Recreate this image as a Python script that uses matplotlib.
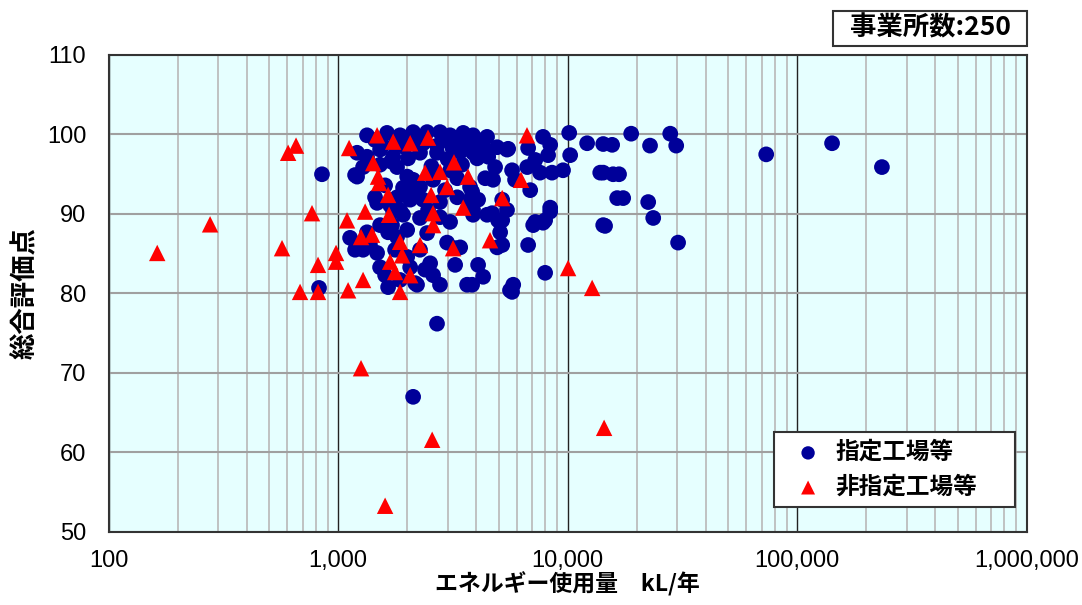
import matplotlib
matplotlib.use("Agg")
import matplotlib.pyplot as plt
from matplotlib.patches import Rectangle
from matplotlib.ticker import FixedLocator, LogLocator, NullFormatter

plt.rcParams["font.family"] = ["Noto Sans CJK JP", "DejaVu Sans"]

# 指定工場等 (energy use kL/yr, score)
designated_x = [
    851, 826, 2698, 2123, 73300, 141900, 234000, 18920, 22860, 27990, 29720, 14290,
    15630, 14290, 15780, 16750, 17460, 22440, 23600, 14560, 30290,
    5508, 6730, 7816, 8395, 8222, 10160, 10260, 12160, 13870, 4375, 4831, 5728,
    6668, 7586, 8551, 9550, 3837, 5188, 8395, 16440, 4457, 4932, 4036, 4508,
    3873, 4457, 5188, 5082, 5188, 4932, 6730, 7228, 7980, 8395, 14290, 4285,
    7980, 5794, 5610, 3837,
    1479, 1738, 1919, 2275, 2780, 3076, 3873, 1128, 1337, 1285, 1479, 1524,
    1652, 1807, 2000, 2061, 2208, 2518, 2594, 2780, 2275, 2985, 3404, 3648,
    2000, 2443, 1718, 1652,
    1337, 1634, 1862, 2123, 2443, 2780, 3076, 3508, 3873, 1210, 1186, 1337,
    1738, 2018, 2275, 2698, 3404, 3873, 1807, 2000, 2123, 2594, 3304, 3758,
    1449, 1807, 2123, 2780, 3304, 3758, 1285, 1919, 2275, 2344,
    1210, 1186, 2167, 5728, 7816, 7079, 4732, 4375, 5445, 5445, 4688, 3236, 4977,
    1449, 1524, 1772, 1959, 2234, 2924, 3236, 3648, 4074, 1524, 1603, 1686,
    1862, 2061, 2466, 2924, 3076, 3467, 1524, 1772, 1377, 1603, 1862, 2393,
    3236, 4074, 5902, 7228, 6871, 4074,
    1560, 1950, 2350, 2700, 3150, 3600, 4200, 1700, 2550, 3000,
]
designated_y = [
    95.0, 80.7, 76.2, 67.0, 97.5, 98.9, 95.9, 100.1, 98.6, 100.1, 98.6, 98.8,
    98.7, 95.2, 95.0, 95.0, 92.0, 91.5, 89.5, 88.5, 86.4,
    98.2, 98.3, 99.7, 98.7, 97.4, 100.2, 97.4, 98.9, 95.2, 94.5, 95.9, 95.5,
    95.9, 95.2, 95.2, 95.5, 92.8, 91.8, 90.8, 92.0, 99.7, 98.4, 97.0, 97.2,
    89.9, 89.9, 89.2, 87.7, 86.1, 85.8, 86.1, 89.0, 89.2, 90.3, 88.6, 82.1,
    82.6, 81.1, 80.4, 81.1,
    91.4, 90.3, 89.9, 89.5, 89.6, 89.0, 90.5, 87.0, 87.7, 85.5, 85.1, 83.3,
    80.8, 87.1, 84.6, 83.3, 81.1, 83.8, 82.3, 81.1, 85.5, 86.4, 85.8, 81.1,
    88.0, 87.6, 88.6, 87.7,
    99.9, 100.2, 99.9, 100.3, 100.3, 100.3, 99.9, 100.2, 99.9, 97.7, 94.9, 97.2,
    97.2, 97.0, 97.7, 97.7, 97.8, 97.7, 95.9, 94.7, 94.3, 94.3, 94.5, 93.4,
    92.1, 92.1, 92.8, 91.5, 92.1, 91.8, 95.9, 93.3, 93.4, 91.8,
    94.7, 85.5, 81.3, 80.2, 88.9, 88.6, 94.3, 98.1, 98.1, 90.5, 90.1, 85.7, 89.2,
    99.3, 98.1, 98.7, 99.1, 99.3, 99.3, 99.1, 99.1, 99.3, 96.2, 93.6, 91.1,
    90.5, 91.8, 90.5, 93.0, 95.5, 96.2, 88.6, 85.5, 86.1, 82.3, 81.7, 83.0,
    83.6, 83.6, 94.3, 96.8, 93.0, 91.8,
    98.6, 98.4, 98.9, 98.6, 98.3, 98.5, 98.8, 96.6, 96.0, 96.9,
]

# 非指定工場等
other_x = [
    163, 277, 570, 606, 656, 770, 683, 818, 818, 980, 980, 1094, 1106, 1312,
    1285, 1259, 1406, 1668, 1863, 1901, 1686, 1772, 2061, 1863, 2277, 2594,
    2594, 3170, 3508, 1479, 1738, 2061, 2466, 1117, 1422, 1493, 1510, 1652,
    2393, 2780, 3199, 2985, 2543, 3681, 6653, 6266, 5188, 4592, 10050, 12790,
    1259, 2570, 14420, 1603,
]
other_y = [
    85.1, 88.7, 85.7, 97.7, 98.6, 90.1, 80.2, 83.6, 80.2, 85.1, 84.0, 89.2, 80.4, 90.3,
    81.7, 87.1, 87.4, 89.9, 86.5, 84.8, 84.0, 82.7, 82.3, 80.2, 86.1, 90.1,
    88.6, 85.7, 90.8, 99.9, 99.1, 98.9, 99.6, 98.3, 96.4, 94.7, 93.9, 92.4,
    95.2, 95.3, 96.5, 93.4, 92.4, 94.7, 99.9, 94.3, 92.0, 86.7, 83.2, 80.7,
    70.6, 61.6, 63.1, 53.3,
]

x_ticks = [100, 1000, 10000, 100000, 1000000]
x_tick_labels = ["100", "1,000", "10,000", "100,000", "1,000,000"]
y_ticks = [50, 60, 70, 80, 90, 100, 110]

fig = plt.figure(figsize=(10.82, 6.05), dpi=100)
ax = fig.add_axes([0.1003, 0.1207, 0.8486, 0.7884])
ax.set_facecolor("#e6ffff")

ax.set_xscale("log")
ax.set_xlim(100, 1000000)
ax.set_ylim(50, 110)

# grid
ax.xaxis.set_minor_locator(LogLocator(base=10, subs=range(2, 10)))
ax.xaxis.set_minor_formatter(NullFormatter())
ax.grid(which="minor", axis="x", color="#bdbdbd", lw=1.3, zorder=0)
ax.grid(which="major", axis="x", color="#222222", lw=1.0, zorder=0)
ax.grid(which="major", axis="y", color="#a0a0a0", lw=1.5, zorder=0)
ax.set_axisbelow(True)

ax.scatter(designated_x, designated_y, s=128, marker="o", color="#000099",
           edgecolors="none", zorder=3, label="指定工場等")
ax.scatter(other_x, other_y, s=140, marker="^", color="#ff0000",
           edgecolors="none", zorder=4, label="非指定工場等")

ax.xaxis.set_major_locator(FixedLocator(x_ticks))
ax.set_xticklabels(x_tick_labels)
ax.set_yticks(y_ticks)
ax.tick_params(which="both", length=0)
ax.tick_params(axis="x", pad=13)
ax.tick_params(axis="y", pad=16)
for lab in ax.get_xticklabels() + ax.get_yticklabels():
    lab.set_fontfamily("Liberation Sans")
    lab.set_fontsize(17)

for sp in ax.spines.values():
    sp.set_color("#333333")
    sp.set_linewidth(1.5)

ax.set_xlabel("エネルギー使用量　kL/年", fontsize=16.5, fontweight="bold", labelpad=0)
ax.set_ylabel("総合評価点", fontsize=19, fontweight="bold", labelpad=6)

leg = ax.legend(loc="lower left", bbox_to_anchor=(0.7246, 0.0524, 0.2624, 0.172),
                mode="expand", fontsize=17, frameon=True, fancybox=False,
                borderpad=0.35, handletextpad=0.05, labelspacing=0.45,
                handlelength=2.2, markerscale=0.85, borderaxespad=0)
leg.get_frame().set_edgecolor("#333333")
leg.get_frame().set_linewidth(1.5)
leg.get_frame().set_facecolor("white")
leg.get_frame().set_alpha(1)
for t in leg.get_texts():
    t.set_fontweight("bold")

fig.patches.append(Rectangle((0.7699, 0.924), 0.1793, 0.0579, transform=fig.transFigure,
                             facecolor="white", edgecolor="#333333", lw=1.5))
fig.text(0.8595, 0.953, "事業所数:250", ha="center", va="center",
         fontsize=19, fontweight="bold")

fig.savefig("out.png", dpi=100)
